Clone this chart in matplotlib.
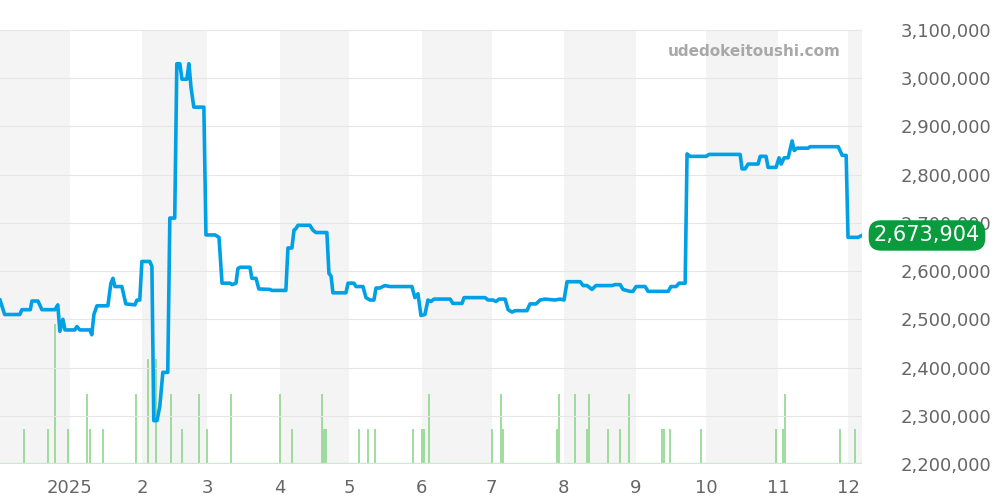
import matplotlib
matplotlib.use("Agg")
import matplotlib.pyplot as plt
from matplotlib.ticker import FuncFormatter

# days counted from 2025-01-01
price_days = [-30, -28, -21.5, -20.6, -17, -16.3, -13.7, -12, -6.4, -5.2, -4.3, -3, -2.1, 2.1, 3, 4.3, 8.6, 9.4,
              10.3, 11.6, 16.3, 17.6, 18.5, 19.3, 22.3, 24, 27.9, 28.8, 30, 30.9, 34.3, 35.2, 36, 37.4, 38.6, 39.9,
              42, 42.9, 45, 45.9, 47.2, 48.1, 50.2, 51.1, 52, 53.2, 57.5, 58.4, 62.3, 64, 65.3, 68.7, 69.6, 71.3,
              72.1, 73, 77.3, 78.1, 79.9, 81.1, 85.9, 86.7, 92.7, 93.6, 95.3, 96.2, 97, 97.9, 103, 104.3, 105.6,
              110.3, 111.2, 112.1, 112.9, 118.5, 119.4, 121.9, 122.8, 125.8, 127.1, 128.8, 130.5, 131.4, 133.1,
              135.2, 137.4, 146.8, 148.1, 149.4, 150.7, 152.4, 153.7, 155, 156.3, 163.2, 164.4, 168.3, 169.2,
              178.2, 179.5, 181.6, 182.9, 184.2, 186.8, 188.1, 189.8, 191.1, 196.2, 197.5, 200.1, 201.8, 203.9,
              208.2, 210.4, 212.1, 213.4, 219, 220.3, 222, 224.1, 225.8, 232.7, 234, 236.2, 237.4, 240.4, 241.7,
              243, 246.9, 248.2, 256.8, 258, 260.2, 261.5, 264.1, 264.9, 266.2, 273.1, 274.4, 287.7, 288.5, 289.8,
              291.1, 295.4, 296.3, 298.8, 299.7, 303.1, 304.4, 305.3, 306.6, 308.3, 310, 310.9, 312.1, 316.9,
              317.7, 329.8, 331.5, 333.2, 334, 338.3, 340]
price_vals = [2540, 2510, 2510, 2520, 2520, 2538, 2538, 2520, 2520, 2530, 2475, 2500, 2478, 2478, 2485, 2478,
              2478, 2468, 2510, 2528, 2528, 2575, 2585, 2568, 2568, 2532, 2530, 2540, 2540, 2620, 2620, 2610,
              2290, 2290, 2320, 2390, 2390, 2710, 2710, 3030, 3030, 2998, 2998, 3030, 2980, 2940, 2940, 2675,
              2675, 2670, 2575, 2575, 2572, 2575, 2605, 2608, 2608, 2585, 2585, 2563, 2562, 2560, 2560, 2648,
              2648, 2685, 2688, 2695, 2695, 2685, 2680, 2680, 2595, 2590, 2555, 2555, 2575, 2575, 2568, 2568,
              2545, 2540, 2540, 2565, 2565, 2570, 2568, 2568, 2545, 2553, 2508, 2510, 2540, 2537, 2542, 2542,
              2533, 2533, 2545, 2545, 2540, 2540, 2537, 2542, 2542, 2520, 2515, 2518, 2518, 2532, 2532, 2540,
              2542, 2540, 2542, 2540, 2578, 2578, 2570, 2570, 2562, 2570, 2570, 2572, 2572, 2562, 2558, 2558,
              2568, 2568, 2558, 2558, 2568, 2568, 2575, 2575, 2843, 2838, 2838, 2842, 2842, 2812, 2812, 2822,
              2822, 2838, 2838, 2815, 2815, 2835, 2822, 2835, 2835, 2870, 2850, 2855, 2855, 2858, 2858, 2840,
              2840, 2670, 2670, 2674]
price_vals = [v * 1000 for v in price_vals]

vol_days = [-19.8, -9.4, -6.4, -0.9, 7.3, 8.6, 14.2, 28.3, 33.5, 36.9, 43.4, 48.1, 55.4, 58.8, 69.1, 90.2,
            95.3, 108.2, 109.1, 109.9, 124.1, 128, 131, 147.3, 151.1, 152, 154.1, 181.2, 185.1, 185.9, 209.1,
            210, 216.8, 222, 222.8, 231, 236.2, 240, 254.2, 255, 257.6, 270.9, 303.1, 306.1, 307, 330.6, 337]
vol_vals = [1, 1, 4, 1, 2, 1, 1, 2, 3, 3, 2, 1, 2, 1, 2, 2, 1, 2, 1, 1, 1, 1, 1, 1, 1, 1, 2, 1, 2, 1, 1,
            2, 2, 1, 2, 1, 1, 2, 1, 1, 1, 1, 1, 1, 2, 1, 1]

month_days = [-31, 0, 31, 59, 90, 120, 151, 181, 212, 243, 273, 304, 334, 365]
month_labels = ["2025", "2", "3", "4", "5", "6", "7", "8", "9", "10", "11", "12"]
last_price = 2673904

fig = plt.figure(figsize=(10, 5), dpi=100)
ax = fig.add_axes([0, 0.072, 0.862, 0.928])
ax.set_xlim(-30, 340)
ax.set_ylim(2200000, 3100000 + 900000 * 30 / 434)
top_frac = 434 / 464  # shading stops at the top gridline

# background bands and volume live on the lower axes
vax = ax.twinx()
vax.set_ylim(0, 13.3)
for i in range(0, len(month_days) - 1, 2):
    vax.axvspan(month_days[i], month_days[i + 1], ymax=top_frac, color="#f4f4f4", lw=0, zorder=0)
vax.vlines(vol_days, 0, vol_vals, color="#8fd68f", lw=1.2, zorder=2)
vax.axhline(0.03, color="#cfe9cf", lw=1)
vax.axis("off")
vax.set_zorder(0)

ax.set_zorder(1)
ax.patch.set_visible(False)
for v in range(2200000, 3100001, 100000):
    ax.axhline(v, color="#e6e6e6", lw=0.8, zorder=1)
ax.plot(price_days, price_vals, color="#00a0e6", lw=2.6, zorder=5, solid_joinstyle="round")

ax.yaxis.tick_right()
ax.set_yticks(range(2200000, 3100001, 100000))
ax.yaxis.set_major_formatter(FuncFormatter(lambda v, p: f"{int(v):,}"))
ax.set_xticks(month_days[1:-1])
ax.set_xticklabels(month_labels)
ax.tick_params(axis="both", length=0, labelsize=13, colors="#666666")
ax.tick_params(axis="y", pad=28)
ax.tick_params(axis="x", pad=11)
for s in ax.spines.values():
    s.set_visible(False)

ax.text(0.975, 0.888, "udedokeitoushi.com", transform=ax.transAxes, ha="right", va="center",
        fontsize=11, fontweight="bold", color="#a8a8a8")

# price badge drawn on the figure so it covers the tick label below it
y_frac = ax.transAxes.inverted().transform(ax.transData.transform((0, last_price)))[1]
fig_y = 0.072 + 0.928 * y_frac
fig.text(0.927, fig_y, f"{last_price:,}", ha="center", va="center", fontsize=15, color="white",
         bbox=dict(boxstyle="round,pad=0.25,rounding_size=0.6", fc="#0a9b3e", ec="none"), zorder=10)

fig.savefig("out.png", dpi=100)
